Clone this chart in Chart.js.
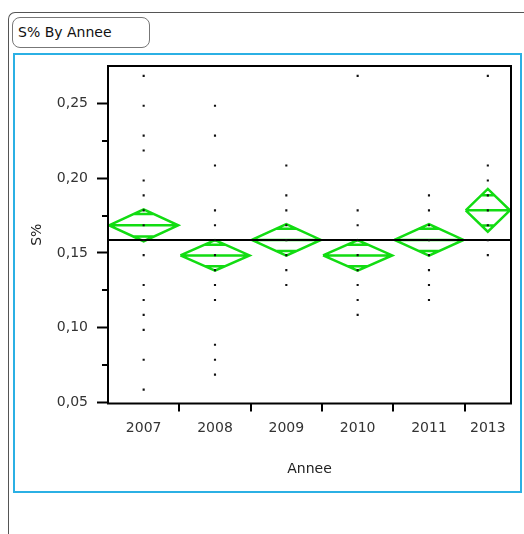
<!DOCTYPE html>
<html>
<head>
<meta charset="utf-8">
<title>S% By Annee</title>
<script src="https://cdn.jsdelivr.net/npm/chart.js@4.4.1/dist/chart.umd.min.js"></script>
<style>
  html, body { margin: 0; padding: 0; background: #fff; width: 524px; height: 534px; overflow: hidden; }
  #outline { position: absolute; left: 8px; top: 12px; width: 540px; height: 560px;
             border-top: 1px solid #555; border-left: 1px solid #555; border-top-left-radius: 7px; }
  #titleBox { position: absolute; left: 12px; top: 17px; width: 138px; height: 31px; box-sizing: border-box;
              border: 1px solid #777; border-radius: 8px; padding-left: 5px;
              font: 14px "DejaVu Sans", sans-serif; line-height: 29px; color: #111; }
  #report { position: absolute; left: 13px; top: 53px; width: 509px; height: 440px; box-sizing: border-box;
            border: 2px solid #2bb0e4; }
  #wrap { position: absolute; left: 0; top: 0; width: 524px; height: 534px; }
</style>
</head>
<body>
<div id="outline"></div>
<div id="titleBox">S% By Annee</div>
<div id="report"></div>
<div id="wrap"><canvas id="chart" width="524" height="534"></canvas></div>
<script>
// Groups (years) and the S% observations in each group
const years = ['2007', '2008', '2009', '2010', '2011', '2013'];
const s2007 = [0.2685, 0.2485, 0.2285, 0.2185, 0.1985, 0.1885, 0.1785, 0.1685, 0.1585, 0.1485, 0.1285, 0.1185, 0.1085, 0.0985, 0.0785, 0.0585];
const s2008 = [0.2485, 0.2285, 0.2085, 0.1785, 0.1685, 0.1585, 0.1485, 0.1385, 0.1285, 0.1185, 0.0885, 0.0785, 0.0685];
const s2009 = [0.2085, 0.1885, 0.1785, 0.1685, 0.1585, 0.1485, 0.1385, 0.1285];
const s2010 = [0.2685, 0.1785, 0.1685, 0.1585, 0.1485, 0.1385, 0.1285, 0.1185, 0.1085];
const s2011 = [0.1885, 0.1785, 0.1685, 0.1585, 0.1485, 0.1385, 0.1285, 0.1185];
const s2013 = [0.2685, 0.2085, 0.1985, 0.1885, 0.1785, 0.1685, 0.1585, 0.1485];

// Means diamonds: group mean and 95% confidence half-width
const groupMeans = [0.1685, 0.1483, 0.1587, 0.1483, 0.1587, 0.1785];
const ciHalf     = [0.0107, 0.0102, 0.0105, 0.0102, 0.0105, 0.0143];
const grandMean  = 0.1587;

// Axis ticks
const yMajorTicks = [0.05, 0.10, 0.15, 0.20, 0.25];
const yMinorTicks = [0.075, 0.125, 0.175, 0.225];

// Horizontal layout: relative width of each group's cell on the x axis
const cellWidths = [1, 1, 1, 1, 1, 0.65];
const cellLefts = [];
cellWidths.reduce((acc, w) => { cellLefts.push(acc); return acc + w; }, 0);
const xMax = cellWidths.reduce((a, b) => a + b, 0);
const cellCenters = cellLefts.map((l, i) => l + cellWidths[i] / 2);
const cellBounds = cellLefts.slice(1);

const groups = [s2007, s2008, s2009, s2010, s2011, s2013];
const dotPoints = [];
groups.forEach((vals, i) => vals.forEach(v => dotPoints.push({ x: cellCenters[i], y: v })));

// Diamond outlines, mean lines and overlap marks, separated by gaps
function diamondPoints() {
  const pts = [];
  const inset = 0.015;
  groupMeans.forEach((m, i) => {
    const l = cellLefts[i] + inset, r = cellLefts[i] + cellWidths[i] - inset, c = (l + r) / 2;
    const h = ciHalf[i], d = h / Math.SQRT2, w = (r - l) / 2 * (1 - Math.SQRT1_2);
    pts.push({ x: l, y: m }, { x: c, y: m + h }, { x: r, y: m }, { x: c, y: m - h }, { x: l, y: m }, { x: c, y: null });
    pts.push({ x: l, y: m }, { x: r, y: m }, { x: c, y: null });
    pts.push({ x: c - w, y: m + d }, { x: c + w, y: m + d }, { x: c, y: null });
    pts.push({ x: c - w, y: m - d }, { x: c + w, y: m - d }, { x: c, y: null });
  });
  return pts;
}

const FONT = { family: '"DejaVu Sans", sans-serif', size: 14 };

// Plot frame, group boundary ticks and minor y ticks
const frameTicks = {
  id: 'frameTicks',
  afterDraw(chart) {
    const { ctx, chartArea: a, scales: { x, y } } = chart;
    ctx.save();
    ctx.strokeStyle = '#000';
    ctx.lineWidth = 2;
    ctx.strokeRect(a.left, a.top, a.right - a.left, a.bottom - a.top);
    ctx.beginPath();
    cellBounds.forEach(b => {
      const px = Math.round(x.getPixelForValue(b));
      ctx.moveTo(px, a.bottom);
      ctx.lineTo(px, a.bottom + 8);
    });
    yMinorTicks.forEach(v => {
      const py = Math.round(y.getPixelForValue(v));
      ctx.moveTo(a.left - 6, py);
      ctx.lineTo(a.left, py);
    });
    ctx.stroke();
    ctx.restore();
  }
};

new Chart(document.getElementById('chart'), {
  type: 'scatter',
  data: {
    datasets: [
      {
        label: 'S%',
        data: dotPoints,
        pointStyle: 'rect',
        pointRadius: 1.5,
        pointHoverRadius: 1.5,
        pointBackgroundColor: '#111',
        pointBorderWidth: 0,
        order: 0
      },
      {
        type: 'line',
        label: 'Grand mean',
        data: [{ x: 0, y: grandMean }, { x: xMax, y: grandMean }],
        borderColor: '#000',
        borderWidth: 2,
        pointRadius: 0,
        order: 1
      },
      {
        type: 'line',
        label: 'Means diamonds',
        data: diamondPoints(),
        borderColor: '#12dc12',
        borderWidth: 2.5,
        borderJoinStyle: 'miter',
        tension: 0,
        spanGaps: false,
        pointRadius: 0,
        order: 2
      }
    ]
  },
  options: {
    responsive: false,
    animation: false,
    events: [],
    layout: { padding: { left: 0, top: 66, right: 13, bottom: 50.5 } },
    plugins: { legend: { display: false }, tooltip: { enabled: false } },
    scales: {
      x: {
        type: 'linear',
        min: 0,
        max: xMax,
        afterBuildTicks(scale) { scale.ticks = cellCenters.map(v => ({ value: v })); },
        afterFit(scale) { scale.height = 80; },
        grid: { display: false, drawTicks: false },
        border: { display: false },
        ticks: {
          autoSkip: false,
          maxRotation: 0,
          padding: 16,
          color: '#333',
          font: FONT,
          callback: (v, i) => years[i]
        },
        title: { display: true, text: 'Annee', color: '#222', font: FONT, padding: { top: 6, bottom: 6 } }
      },
      y: {
        type: 'linear',
        min: 0.0492,
        max: 0.2751,
        afterBuildTicks(scale) { scale.ticks = yMajorTicks.map(v => ({ value: v })); },
        afterFit(scale) { scale.width = 108; },
        grid: { display: true, drawOnChartArea: false, drawTicks: true, tickLength: 11, tickColor: '#000', tickWidth: 2 },
        border: { display: false },
        ticks: {
          padding: 9,
          color: '#333',
          font: FONT,
          callback: v => v.toFixed(2).replace('.', ',')
        },
        title: { display: true, text: 'S%', color: '#222', font: FONT, padding: { top: 28.6, bottom: 0 } }
      }
    }
  },
  plugins: [frameTicks]
});
</script>
</body>
</html>
